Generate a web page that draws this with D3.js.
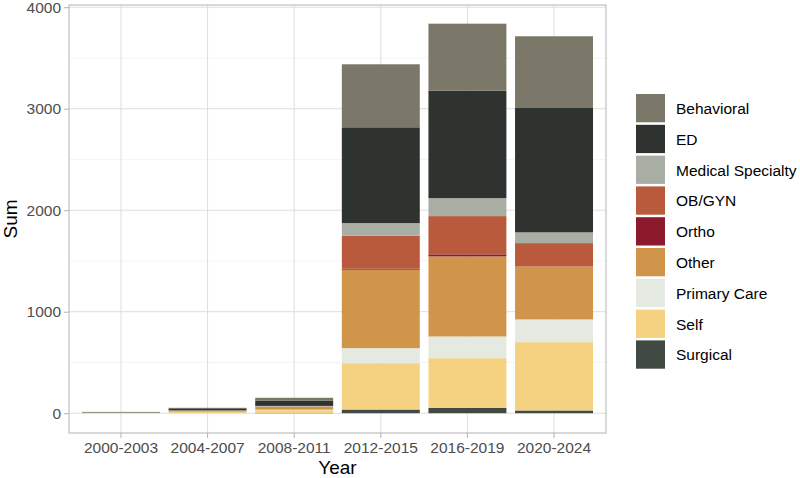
<!DOCTYPE html>
<html>
<head>
<meta charset="utf-8">
<script src="https://cdn.jsdelivr.net/npm/d3@7"></script>
<style>
  body { margin: 0; background: #fff; }
  text { font-family: "Liberation Sans", Arial, sans-serif; }
</style>
</head>
<body>
<svg id="chart" width="800" height="478"></svg>
<script>
// periods on the x axis
const years = ['2000-2003', '2004-2007', '2008-2011', '2012-2015', '2016-2019', '2020-2024'];

// legend order (top of stack first)
const categories = ['Behavioral', 'ED', 'Medical Specialty', 'OB/GYN', 'Ortho', 'Other', 'Primary Care', 'Self', 'Surgical'];
const colors = ['#7b7769', '#2f3330', '#a9aea4', '#b95a3c', '#8d1a2c', '#d0954b', '#e4eae2', '#f4d282', '#414a42'];

// values per category, one per period
const behavioral   = [5, 5, 30, 621, 661, 707];
const ed           = [3, 20, 50, 944, 1058, 1225];
const medSpecialty = [0, 2, 5, 124, 177, 106];
const obgyn        = [0, 1, 2, 325, 377, 228];
const ortho        = [0, 0, 0, 10, 20, 2];
const other        = [2, 10, 30, 773, 789, 522];
const primaryCare  = [0, 3, 5, 148, 214, 224];
const self         = [3, 12, 28, 457, 489, 673];
const surgical     = [0, 0, 2, 36, 53, 27];

const seriesValues = [behavioral, ed, medSpecialty, obgyn, ortho, other, primaryCare, self, surgical];

const yTicks = [0, 1000, 2000, 3000, 4000];
const yMinor = [500, 1500, 2500, 3500];

const rows = years.map((y, i) => {
  const r = { year: y };
  categories.forEach((c, j) => { r[c] = seriesValues[j][i]; });
  return r;
});

const panel = { left: 69, right: 606, top: 5, bottom: 433 };
const svg = d3.select('#chart');

const x = d3.scaleBand()
    .domain(years)
    .range([panel.left, panel.right])
    .paddingInner(0.1)
    .paddingOuter(0.15);

const y = d3.scaleLinear()
    .domain([-195, 4022])
    .range([panel.bottom, panel.top]);

const color = d3.scaleOrdinal().domain(categories).range(colors);

// stack bottom-up: Surgical first, Behavioral on top
const stack = d3.stack().keys(categories.slice().reverse());
const stacked = stack(rows);

// grid
const grid = svg.append('g');
grid.selectAll('.minor')
    .data(yMinor)
    .join('line')
    .attr('x1', panel.left).attr('x2', panel.right)
    .attr('y1', d => y(d)).attr('y2', d => y(d))
    .attr('stroke', '#ededed').attr('stroke-width', 0.6);
grid.selectAll('.major')
    .data(yTicks)
    .join('line')
    .attr('x1', panel.left).attr('x2', panel.right)
    .attr('y1', d => y(d)).attr('y2', d => y(d))
    .attr('stroke', '#dedede').attr('stroke-width', 1);
grid.selectAll('.vmajor')
    .data(years)
    .join('line')
    .attr('y1', panel.top).attr('y2', panel.bottom)
    .attr('x1', d => x(d) + x.bandwidth() / 2).attr('x2', d => x(d) + x.bandwidth() / 2)
    .attr('stroke', '#dedede').attr('stroke-width', 1);

// bars
svg.append('g')
    .selectAll('g')
    .data(stacked)
    .join('g')
    .attr('fill', d => color(d.key))
    .selectAll('rect')
    .data(d => d)
    .join('rect')
    .attr('x', d => x(d.data.year))
    .attr('width', x.bandwidth())
    .attr('y', d => y(d[1]))
    .attr('height', d => Math.max(0, y(d[0]) - y(d[1])));

// panel border
svg.append('rect')
    .attr('x', panel.left).attr('y', panel.top)
    .attr('width', panel.right - panel.left).attr('height', panel.bottom - panel.top)
    .attr('fill', 'none').attr('stroke', '#b3b3b3').attr('stroke-width', 1);

// axes
const yAxis = d3.axisLeft(y).tickValues(yTicks).tickFormat(d3.format('d')).tickSize(5).tickPadding(3);
const gy = svg.append('g').attr('transform', `translate(${panel.left},0)`).call(yAxis);
const xAxis = d3.axisBottom(x).tickSize(5).tickPadding(4);
const gx = svg.append('g').attr('transform', `translate(0,${panel.bottom})`).call(xAxis);
[gx, gy].forEach(g => {
  g.select('.domain').remove();
  g.selectAll('line').attr('stroke', '#b3b3b3');
  g.selectAll('text')
      .attr('fill', '#4d4d4d')
      .style('font-size', '15.5px')
      .style('font-family', '"Liberation Sans", Arial, sans-serif');
});

// axis titles
svg.append('text')
    .attr('x', (panel.left + panel.right) / 2)
    .attr('y', 474)
    .attr('text-anchor', 'middle')
    .style('font-size', '19px')
    .attr('fill', '#000')
    .text('Year');
svg.append('text')
    .attr('transform', `translate(17,${(panel.top + panel.bottom) / 2}) rotate(-90)`)
    .attr('text-anchor', 'middle')
    .style('font-size', '19px')
    .attr('fill', '#000')
    .text('Sum');

// legend
const legend = svg.append('g').attr('transform', 'translate(636,94)');
const item = legend.selectAll('g')
    .data(categories)
    .join('g')
    .attr('transform', (d, i) => `translate(0,${i * 30.8})`);
item.append('rect')
    .attr('width', 29).attr('height', 28.3)
    .attr('fill', d => color(d));
item.append('text')
    .attr('x', 40)
    .attr('y', 14.5)
    .attr('dy', '0.35em')
    .style('font-size', '15.5px')
    .attr('fill', '#000')
    .text(d => d);
</script>
</body>
</html>
